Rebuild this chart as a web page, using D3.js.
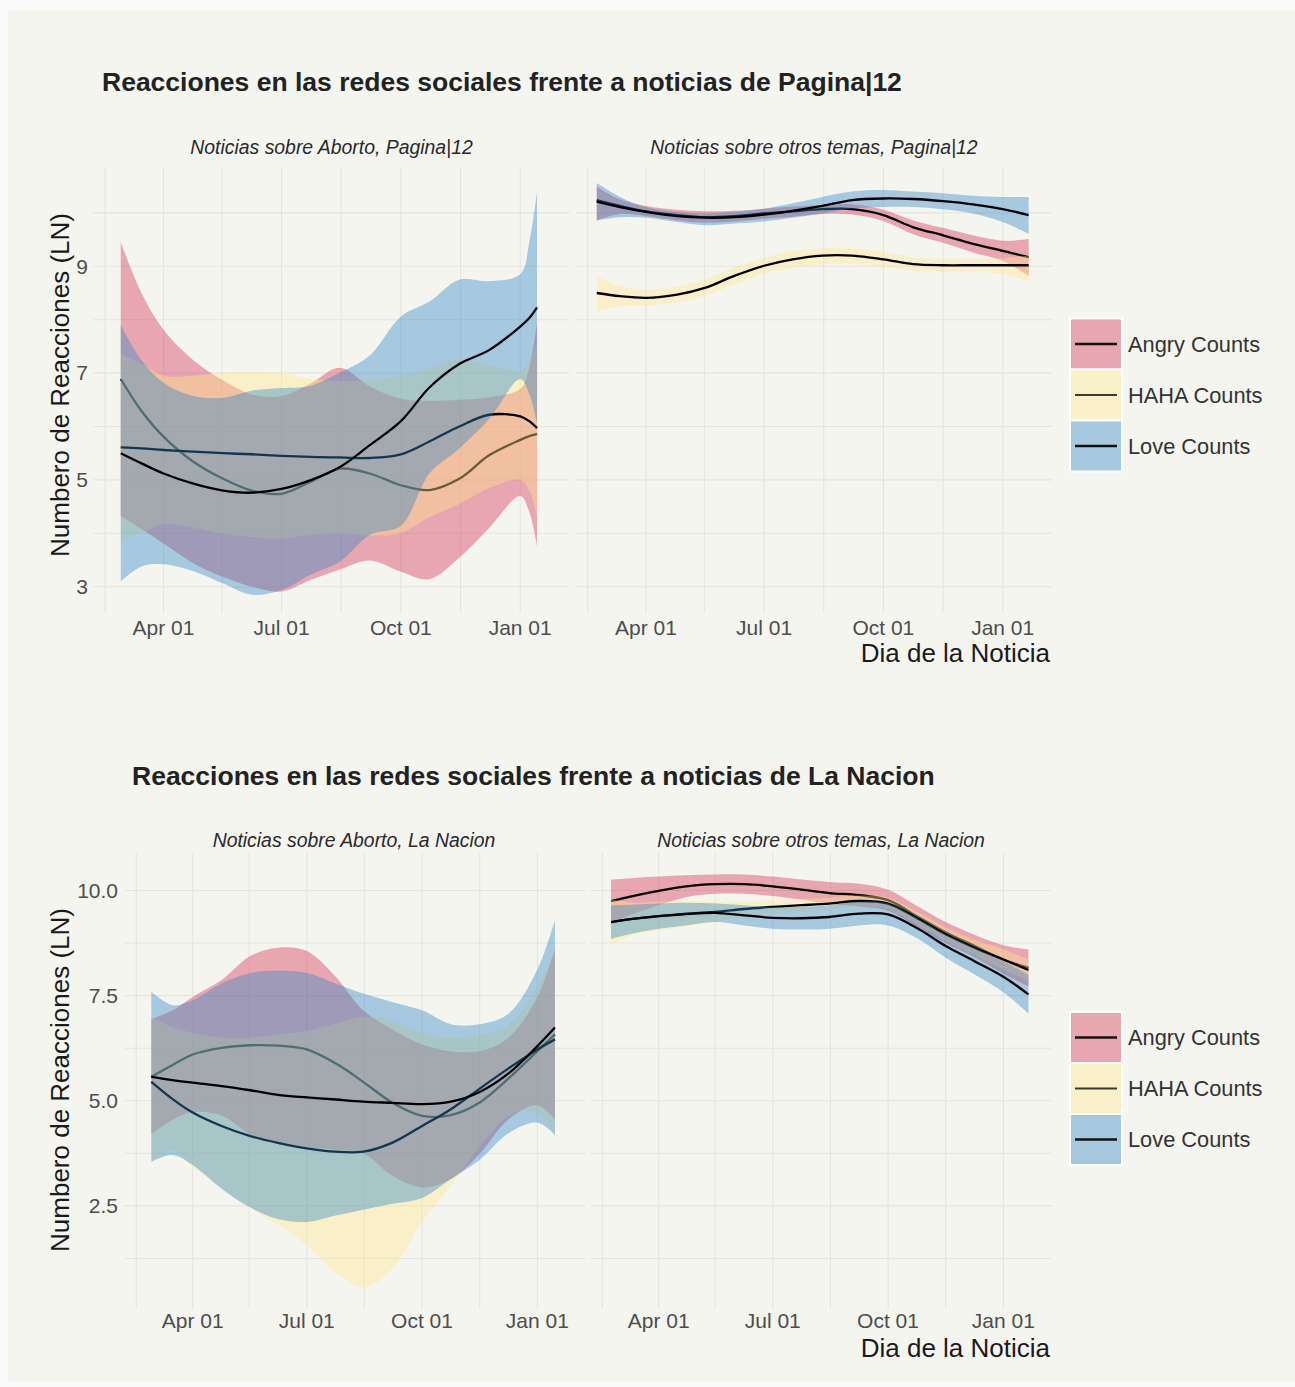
<!DOCTYPE html>
<html><head><meta charset="utf-8">
<script src="https://cdn.jsdelivr.net/npm/d3@7"></script>
<style>
body{margin:0;background:#fafafb;}
svg{display:block;font-family:"Liberation Sans",Arial,sans-serif;}
</style>
</head><body>
<svg id="chart" width="1295" height="1387"></svg>
<script>
// ---------------- DATA ----------------
const seriesNames = ["Angry Counts", "HAHA Counts", "Love Counts"];
const tickDates = ["2018-04-01", "2018-07-01", "2018-10-01", "2019-01-01"];
const tickLabels = ["Apr 01", "Jul 01", "Oct 01", "Jan 01"];
const minorDates = ["2018-02-15", "2018-05-16", "2018-08-16", "2018-11-16"];
const yTicksP12 = [3, 5, 7, 9];
const yMinorP12 = [4, 6, 8, 10];
const yTicksLN = [2.5, 5.0, 7.5, 10.0];
const yMinorLN = [1.25, 3.75, 6.25, 8.75];

// Pagina|12 - Aborto
const datesP12Aborto = ["2018-02-27","2018-03-15","2018-04-01","2018-04-24","2018-05-17","2018-06-08","2018-07-01","2018-07-23","2018-08-15","2018-09-07","2018-10-01","2018-10-23","2018-11-15","2018-12-08","2019-01-01","2019-01-08","2019-01-14"];
const p12AbortoAngryFit = [6.89,6.29,5.81,5.34,5.02,4.80,4.74,4.96,5.21,5.12,4.90,4.81,5.02,5.46,5.75,5.82,5.86];
const p12AbortoAngryHi  = [9.45,8.50,7.81,7.24,6.86,6.60,6.57,6.80,7.10,6.75,6.52,6.48,6.50,6.55,6.70,7.10,7.96];
const p12AbortoAngryLo  = [4.33,4.08,3.81,3.44,3.18,3.00,2.91,3.12,3.32,3.49,3.28,3.14,3.54,4.10,4.70,4.40,3.76];
const p12AbortoHahaFit  = [5.61,5.59,5.56,5.53,5.50,5.48,5.45,5.43,5.42,5.41,5.48,5.72,6.00,6.22,6.19,6.10,5.97];
const p12AbortoHahaHi   = [7.36,7.17,6.95,6.95,7.01,7.03,7.00,6.89,6.85,6.86,6.95,7.10,7.25,7.15,7.05,7.20,7.60];
const p12AbortoHahaLo   = [3.86,4.01,4.17,4.11,3.99,3.93,3.90,3.97,3.99,3.96,4.01,4.30,4.55,4.85,5.00,4.80,4.30];
const p12AbortoLoveFit  = [5.50,5.31,5.12,4.93,4.80,4.76,4.83,4.99,5.24,5.65,6.10,6.73,7.17,7.43,7.87,8.03,8.23];
const p12AbortoLoveHi   = [7.90,7.24,6.82,6.57,6.54,6.67,6.72,6.76,7.01,7.33,8.06,8.34,8.75,8.72,8.85,9.45,10.40];
const p12AbortoLoveLo   = [3.10,3.38,3.42,3.29,3.06,2.85,2.94,3.22,3.47,3.97,4.14,5.12,5.59,6.14,6.89,6.61,6.06];

// Pagina|12 - otros temas
const datesP12Otros = ["2018-02-22","2018-03-12","2018-04-01","2018-04-25","2018-05-17","2018-06-08","2018-07-01","2018-07-23","2018-08-15","2018-09-07","2018-10-01","2018-10-24","2018-11-16","2018-12-09","2019-01-01","2019-01-21"];
const p12OtrosAngryFit = [10.24,10.13,10.03,9.96,9.92,9.94,9.99,10.03,10.07,10.07,9.96,9.73,9.58,9.42,9.29,9.17];
const p12OtrosAngryHi  = [10.49,10.25,10.13,10.06,10.03,10.04,10.08,10.12,10.15,10.16,10.06,9.86,9.72,9.58,9.48,9.51];
const p12OtrosAngryLo  = [9.86,9.98,9.94,9.86,9.82,9.84,9.89,9.93,9.98,9.97,9.85,9.60,9.44,9.26,9.10,8.82];
const p12OtrosHahaFit  = [8.50,8.44,8.41,8.47,8.60,8.82,9.01,9.13,9.20,9.20,9.13,9.04,9.02,9.02,9.02,9.02];
const p12OtrosHahaHi   = [8.82,8.63,8.57,8.62,8.76,8.98,9.16,9.29,9.34,9.34,9.27,9.17,9.14,9.14,9.15,9.20];
const p12OtrosHahaLo   = [8.15,8.25,8.27,8.32,8.45,8.66,8.86,8.97,9.04,9.05,8.99,8.91,8.90,8.89,8.86,8.72];
const p12OtrosLoveFit  = [10.21,10.11,10.02,9.94,9.91,9.92,9.97,10.04,10.13,10.24,10.27,10.26,10.22,10.16,10.07,9.96];
const p12OtrosLoveHi   = [10.56,10.30,10.11,10.02,9.99,10.02,10.08,10.18,10.30,10.40,10.43,10.40,10.37,10.32,10.30,10.30];
const p12OtrosLoveLo   = [9.86,9.92,9.91,9.83,9.77,9.80,9.84,9.91,9.99,10.08,10.11,10.11,10.07,9.99,9.83,9.61];

// La Nacion - Aborto
const datesLNAborto = ["2018-02-27","2018-03-16","2018-04-01","2018-04-24","2018-05-17","2018-06-08","2018-07-01","2018-07-24","2018-08-15","2018-09-07","2018-10-01","2018-10-24","2018-11-16","2018-12-09","2019-01-01","2019-01-15"];
const lnAbortoAngryFit = [5.57,5.85,6.10,6.26,6.32,6.31,6.22,5.89,5.45,4.96,4.64,4.66,4.96,5.53,6.18,6.58];
const lnAbortoAngryHi  = [6.94,7.15,7.47,7.87,8.44,8.64,8.56,7.95,7.15,6.70,6.34,6.18,6.18,6.50,7.47,8.60];
const lnAbortoAngryLo  = [4.20,4.55,4.73,4.65,4.20,3.98,3.88,3.83,3.75,3.22,2.94,3.14,3.74,4.56,4.89,4.56];
const lnAbortoHahaFit  = [5.45,5.04,4.72,4.40,4.16,4.00,3.87,3.79,3.79,4.00,4.40,4.80,5.29,5.77,6.22,6.46];
const lnAbortoHahaHi   = [7.00,6.75,6.62,6.50,6.50,6.58,6.66,6.84,7.00,6.90,6.60,6.50,6.55,6.80,7.70,8.60];
const lnAbortoHahaLo   = [3.55,3.83,3.43,2.94,2.46,2.05,1.57,0.92,0.56,1.00,2.13,2.98,3.91,4.64,4.72,4.16];
const lnAbortoLoveFit  = [5.57,5.49,5.43,5.35,5.25,5.14,5.08,5.03,4.98,4.95,4.92,4.98,5.21,5.65,6.30,6.74];
const lnAbortoLoveHi   = [7.59,7.27,7.39,7.79,8.04,8.09,8.04,7.79,7.55,7.35,7.15,6.82,6.82,7.07,8.12,9.29];
const lnAbortoLoveLo   = [3.55,3.71,3.47,2.91,2.46,2.19,2.12,2.27,2.41,2.55,2.69,3.14,3.60,4.23,4.48,4.19];

// La Nacion - otros temas
const datesLNOtros = ["2018-02-22","2018-03-13","2018-04-01","2018-04-23","2018-05-16","2018-06-08","2018-07-01","2018-07-24","2018-08-15","2018-09-08","2018-10-01","2018-10-25","2018-11-16","2018-12-09","2019-01-01","2019-01-21"];
const lnOtrosAngryFit = [9.75,9.88,9.99,10.10,10.15,10.15,10.10,10.02,9.94,9.89,9.77,9.37,9.00,8.68,8.36,8.16];
const lnOtrosAngryHi  = [10.26,10.30,10.33,10.36,10.38,10.38,10.33,10.26,10.20,10.16,10.02,9.62,9.25,8.95,8.70,8.60];
const lnOtrosAngryLo  = [9.24,9.46,9.65,9.84,9.92,9.92,9.87,9.78,9.68,9.62,9.52,9.12,8.75,8.41,8.02,7.72];
const lnOtrosHahaFit  = [9.25,9.33,9.39,9.45,9.49,9.56,9.61,9.65,9.69,9.75,9.69,9.33,8.96,8.64,8.36,8.11];
const lnOtrosHahaHi   = [9.78,9.71,9.73,9.75,9.73,9.74,9.77,9.80,9.83,9.88,9.83,9.48,9.12,8.82,8.60,8.36];
const lnOtrosHahaLo   = [8.72,8.95,9.05,9.15,9.25,9.38,9.45,9.50,9.55,9.62,9.55,9.18,8.80,8.46,8.12,7.86];
const lnOtrosLoveFit  = [9.25,9.33,9.39,9.44,9.47,9.41,9.35,9.34,9.37,9.45,9.43,9.09,8.68,8.32,7.95,7.53];
const lnOtrosLoveHi   = [9.65,9.67,9.69,9.71,9.69,9.65,9.61,9.61,9.65,9.73,9.69,9.33,8.96,8.64,8.32,7.99];
const lnOtrosLoveLo   = [8.85,8.99,9.09,9.17,9.25,9.17,9.09,9.07,9.09,9.17,9.17,8.85,8.40,8.00,7.58,7.07];

// ---------------- STYLE ----------------
const fillColors = ["#d43250", "#ffe68c", "#2f87c5"];
const bandAlpha = 0.4;
const BG = "#f5f5f0";
const GRID = "#e4e4e0";

const parse = d3.utcParse("%Y-%m-%d");
const svg = d3.select("#chart");

svg.append("rect").attr("x", 8).attr("y", 10).attr("width", 1287).attr("height", 1372).attr("fill", BG);

const xDomain = [parse("2018-02-06"), parse("2019-02-08")];

function panel(x0, x1, yScale, yTop, yBot, minorY, majorY, dates, fits, los, his, labelY) {
  const x = d3.scaleUtc().domain(xDomain).range([x0, x1]);
  const g = svg.append("g");
  const allY = majorY.concat(minorY);
  g.selectAll(null).data(allY).enter().append("line")
    .attr("x1", x0).attr("x2", x1)
    .attr("y1", d => yScale(d)).attr("y2", d => yScale(d))
    .attr("stroke", GRID).attr("stroke-width", 1.1);
  const allX = tickDates.concat(minorDates).map(parse);
  g.selectAll(null).data(allX).enter().append("line")
    .attr("x1", d => x(d)).attr("x2", d => x(d))
    .attr("y1", yTop).attr("y2", yBot)
    .attr("stroke", GRID).attr("stroke-width", 1.1);
  const ds = dates.map(parse);
  for (let s = 0; s < 3; s++) {
    const pts = ds.map((d, i) => ({ d, f: fits[s][i], lo: los[s][i], hi: his[s][i] }));
    const area = d3.area().x(p => x(p.d)).y0(p => yScale(p.lo)).y1(p => yScale(p.hi)).curve(d3.curveCatmullRom.alpha(0.5));
    const line = d3.line().x(p => x(p.d)).y(p => yScale(p.f)).curve(d3.curveCatmullRom.alpha(0.5));
    g.append("path").attr("d", area(pts)).attr("fill", fillColors[s]).attr("fill-opacity", bandAlpha);
    g.append("path").attr("d", line(pts)).attr("fill", "none").attr("stroke", "#000").attr("stroke-width", 2.3);
  }
  g.selectAll(null).data(tickDates).enter().append("text")
    .attr("x", d => x(parse(d))).attr("y", labelY)
    .attr("text-anchor", "middle").attr("font-size", 21).attr("fill", "#4d4d4d")
    .text((d, i) => tickLabels[i]);
  return x;
}

function yLabels(yScale, ticks, xRight, fmt) {
  svg.append("g").selectAll(null).data(ticks).enter().append("text")
    .attr("x", xRight).attr("y", d => yScale(d)).attr("dy", "0.35em")
    .attr("text-anchor", "end").attr("font-size", 21).attr("fill", "#4d4d4d")
    .text(fmt);
}

function text(x, y, str, opts) {
  const t = svg.append("text").attr("x", x).attr("y", y).text(str);
  for (const k in opts) t.attr(k, opts[k]);
  return t;
}

function legend(yStart) {
  const g = svg.append("g");
  const keyW = 52, keyH = 51;
  seriesNames.forEach((name, i) => {
    const y = yStart + i * keyH;
    g.append("rect").attr("x", 1070).attr("y", y).attr("width", keyW).attr("height", keyH)
      .attr("fill", BG).attr("stroke", "#ffffff").attr("stroke-width", 2);
    g.append("rect").attr("x", 1071).attr("y", y + 1).attr("width", keyW - 2).attr("height", keyH - 2)
      .attr("fill", fillColors[i]).attr("fill-opacity", bandAlpha);
    g.append("line").attr("x1", 1075).attr("x2", 1117).attr("y1", y + keyH / 2).attr("y2", y + keyH / 2)
      .attr("stroke", i === 1 ? "#3b3b33" : "#111").attr("stroke-width", i === 1 ? 1.8 : 2.4);
    g.append("text").attr("x", 1128).attr("y", y + keyH / 2).attr("dy", "0.35em")
      .attr("font-size", 21.8).attr("fill", "#333").text(name);
  });
}

// ---------------- TOP CHART (Pagina|12) ----------------
const yTopScale = d3.scaleLinear().domain([3, 10]).range([586.7, 212.9]);
text(102, 91, "Reacciones en las redes sociales frente a noticias de Pagina|12",
  { "font-size": 26.5, "font-weight": "bold", fill: "#222" });
panel(93.5, 569.5, yTopScale, 168, 613, yMinorP12, yTicksP12, datesP12Aborto,
  [p12AbortoAngryFit, p12AbortoHahaFit, p12AbortoLoveFit],
  [p12AbortoAngryLo, p12AbortoHahaLo, p12AbortoLoveLo],
  [p12AbortoAngryHi, p12AbortoHahaHi, p12AbortoLoveHi], 635);
panel(576, 1052, yTopScale, 168, 613, yMinorP12, yTicksP12, datesP12Otros,
  [p12OtrosAngryFit, p12OtrosHahaFit, p12OtrosLoveFit],
  [p12OtrosAngryLo, p12OtrosHahaLo, p12OtrosLoveLo],
  [p12OtrosAngryHi, p12OtrosHahaHi, p12OtrosLoveHi], 635);
text(331.5, 154, "Noticias sobre Aborto, Pagina|12", { "font-size": 19.4, "font-style": "italic", "text-anchor": "middle", fill: "#2a2a2a" });
text(814, 154, "Noticias sobre otros temas, Pagina|12", { "font-size": 19.4, "font-style": "italic", "text-anchor": "middle", fill: "#2a2a2a" });
yLabels(yTopScale, yTicksP12, 88, d => d3.format("d")(d));
text(0, 0, "Numbero de Reacciones (LN)", { "font-size": 26, "text-anchor": "middle", fill: "#1a1a1a",
  transform: "translate(69,385) rotate(-90)" });
text(1050, 662, "Dia de la Noticia", { "font-size": 26, "text-anchor": "end", fill: "#1a1a1a" });
legend(318.5);

// ---------------- BOTTOM CHART (La Nacion) ----------------
const yBotScale = d3.scaleLinear().domain([2.5, 10]).range([1205.9, 890.5]);
text(132, 785, "Reacciones en las redes sociales frente a noticias de La Nacion",
  { "font-size": 26.5, "font-weight": "bold", fill: "#222" });
panel(125, 585, yBotScale, 853, 1309, yMinorLN, yTicksLN, datesLNAborto,
  [lnAbortoAngryFit, lnAbortoHahaFit, lnAbortoLoveFit],
  [lnAbortoAngryLo, lnAbortoHahaLo, lnAbortoLoveLo],
  [lnAbortoAngryHi, lnAbortoHahaHi, lnAbortoLoveHi], 1328);
panel(591, 1051, yBotScale, 853, 1309, yMinorLN, yTicksLN, datesLNOtros,
  [lnOtrosAngryFit, lnOtrosHahaFit, lnOtrosLoveFit],
  [lnOtrosAngryLo, lnOtrosHahaLo, lnOtrosLoveLo],
  [lnOtrosAngryHi, lnOtrosHahaHi, lnOtrosLoveHi], 1328);
text(354, 847, "Noticias sobre Aborto, La Nacion", { "font-size": 19.4, "font-style": "italic", "text-anchor": "middle", fill: "#2a2a2a" });
text(821, 847, "Noticias sobre otros temas, La Nacion", { "font-size": 19.4, "font-style": "italic", "text-anchor": "middle", fill: "#2a2a2a" });
yLabels(yBotScale, yTicksLN, 118, d => d3.format(".1f")(d));
text(0, 0, "Numbero de Reacciones (LN)", { "font-size": 26, "text-anchor": "middle", fill: "#1a1a1a",
  transform: "translate(69,1080) rotate(-90)" });
text(1050, 1357, "Dia de la Noticia", { "font-size": 26, "text-anchor": "end", fill: "#1a1a1a" });
legend(1012);
</script>
</body></html>
